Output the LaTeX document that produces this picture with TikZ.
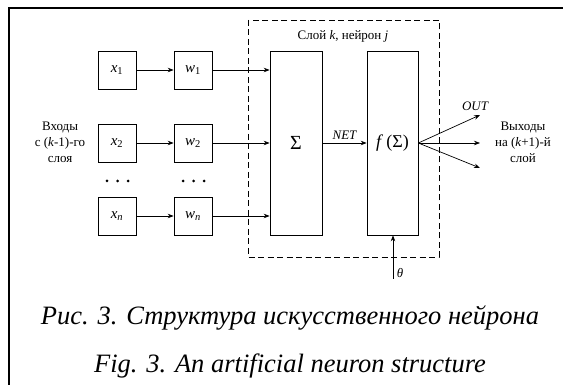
\documentclass[tikz,border=0pt]{standalone}
\usepackage{fontspec}
\setmainfont{Liberation Serif}
\usetikzlibrary{arrows.meta}
\begin{document}
\begin{tikzpicture}[x=1pt,y=-1pt,
  box/.style={draw, line width=0.7pt, inner sep=0pt},
  sbox/.style={box, minimum width=38pt, minimum height=38pt, font=\fontsize{15}{17}\selectfont\itshape},
  conn/.style={line width=0.7pt, -{Stealth[length=6pt,width=4.5pt]}},
  lbl/.style={font=\fontsize{13}{16}\selectfont, align=center, inner sep=0pt},
  ilbl/.style={font=\fontsize{13}{16}\selectfont\itshape, inner sep=0pt},
  captxt/.style={font=\fontsize{26.5}{30}\selectfont\itshape, inner sep=0pt, anchor=base}]
\useasboundingbox (0,0) rectangle (563,385);
\draw[line width=1.4pt] (563,8) -- (9,8) -- (9,385);
% dashed box
\draw[line width=0.7pt, dash pattern=on 6pt off 3.5pt] (248,20) rectangle (439,257);
% input boxes
\foreach \n/\y/\s in {1/70/1, 2/143/2, n/216/{\itshape n}}{
  \node[sbox] (x\n) at (117,\y) {x\textsubscript{\upshape\s}};
  \node[sbox] (w\n) at (193,\y) {w\textsubscript{\upshape\s}};
}
\node[box, minimum width=52pt, minimum height=184pt, font=\fontsize{20}{22}\selectfont] (sum) at (296,143) {Σ};
\node[box, minimum width=51pt, minimum height=184pt, font=\fontsize{18}{20}\selectfont] (f) at (392.5,143) {\textit{f}\,(Σ)};
\foreach \n in {1,2,n}{
  \draw[conn] (x\n) -- (w\n);
  \draw[conn] (w\n.east) -- (sum.west |- w\n.east);
}
% dots
\foreach \x in {107,117.5,128,183,193.5,204}{
  \fill (\x,181) circle (1.5pt);
}
\draw[conn] (sum) -- node[above=3pt, ilbl] {NET} (f);
% outputs
\coordinate (o1) at (480,115);
\coordinate (o2) at (480,143);
\coordinate (o3) at (480,168);
\draw[conn] (f.east) -- (o1);
\draw[conn] (f.east) -- (o2);
\draw[conn] (f.east) -- (o3);
\node[ilbl] (out) at (475,106) {OUT};
\node[lbl] (vyh) at (523,142) {Выходы\\на (\textit{k}+1)-й\\слой};
\node[lbl] (vh) at (60,142) {Входы\\с (\textit{k}-1)-го\\слоя};
\node[lbl] (layer) at (343,36) {Слой \textit{k}, нейрон \textit{j}};
% theta
\coordinate (th) at (393,279);
\draw[conn] (th) -- (f.south -| th);
\node[ilbl] (theta) at (400,273) {θ};
% captions
\node[captxt] (c1) at (290,324) {Рис. 3. Структура искусственного нейрона};
\node[captxt] (c2) at (290,372) {Fig. 3. An artificial neuron structure};
\end{tikzpicture}
\end{document}
